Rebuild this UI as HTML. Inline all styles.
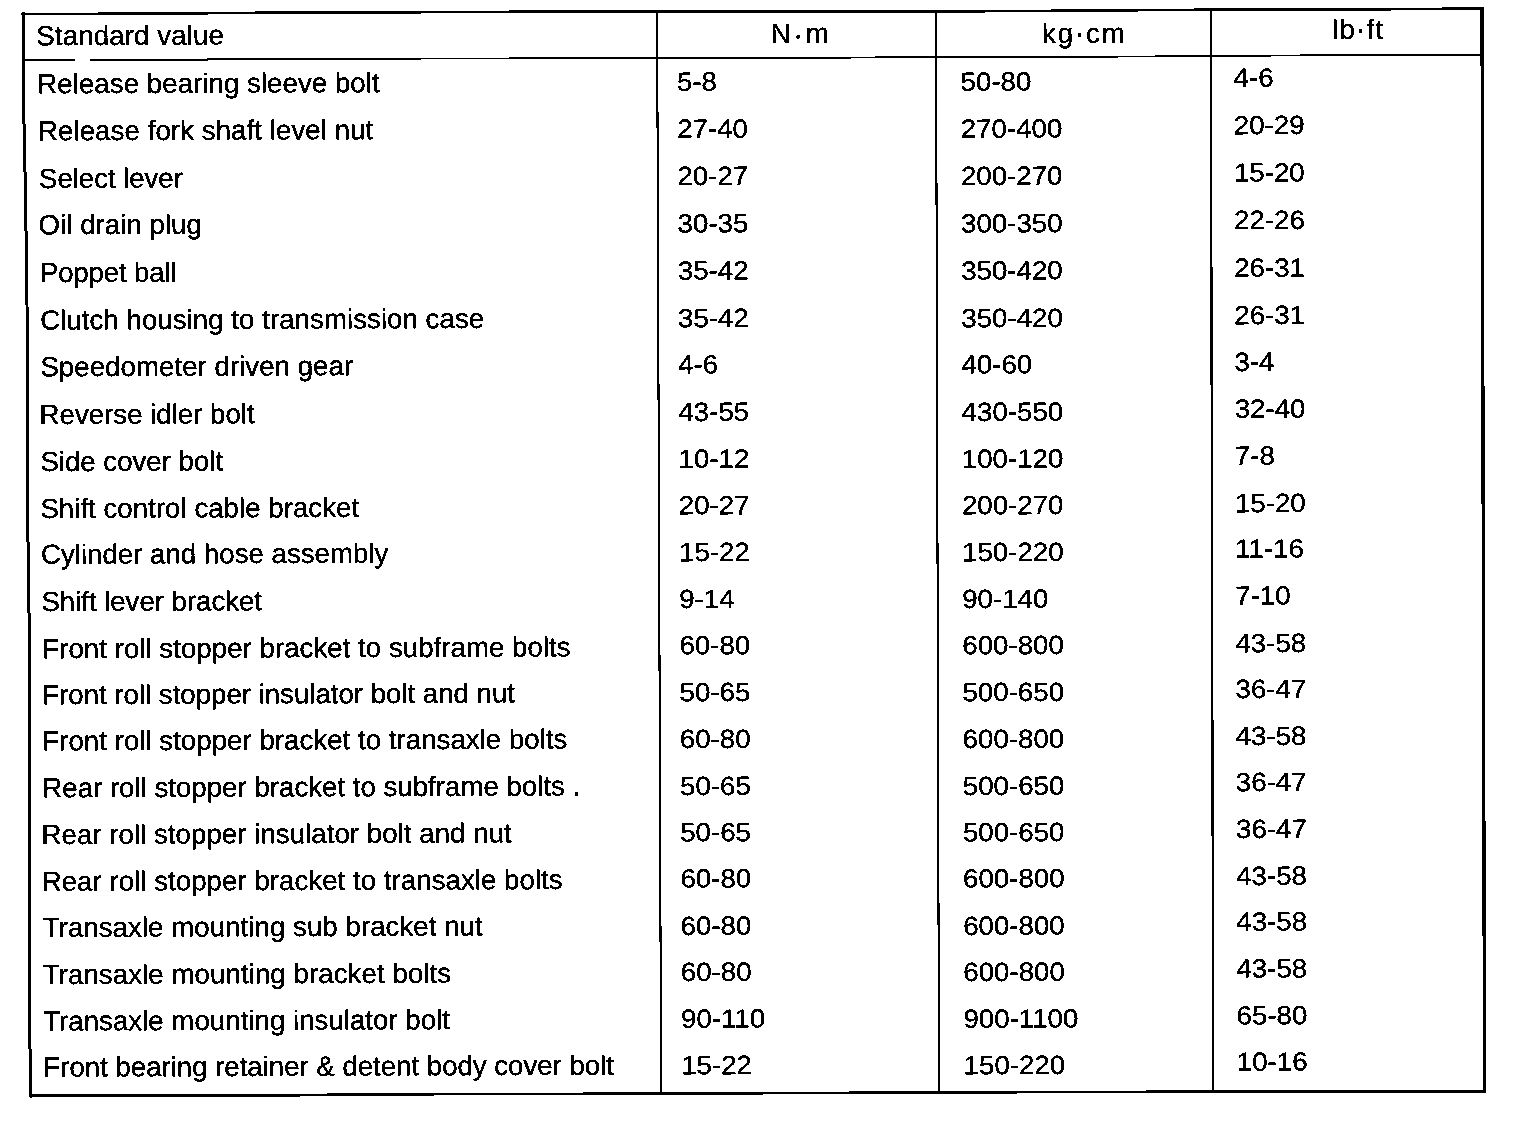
<!DOCTYPE html>
<html><head><meta charset="utf-8"><title>Torque specifications</title>
<style>
html,body{margin:0;padding:0;background:#fff;}
body{width:1536px;height:1124px;overflow:hidden;}
svg{display:block;}
text{font-family:"Liberation Sans",Arial,Helvetica,sans-serif;font-size:27.7px;fill:#000;stroke:#000;stroke-width:0.35px;}
</style></head><body>
<svg width="1536" height="1124" viewBox="0 0 1536 1124">
<defs><filter id="bin" x="0" y="0" width="1536" height="1124" filterUnits="userSpaceOnUse"><feComponentTransfer><feFuncA type="discrete" tableValues="0 1"/></feComponentTransfer></filter></defs>
<rect width="1536" height="1124" fill="#fff"/>
<g filter="url(#bin)">
<polyline points="21.5,14 60,14 330,12.4 670,11.5 950,11.5 1230,9.5 1360,9.4 1483.5,8.5" fill="none" stroke="#000" stroke-width="2.7"/>
<polyline points="23,60.3 75.5,60.2" fill="none" stroke="#000" stroke-width="1.4"/>
<polyline points="90,60.1 110,60.0 330,58.9 670,57.9 800,57.9 950,57 1080,56.9 1230,55.8 1360,55 1482,55" fill="none" stroke="#000" stroke-width="1.8"/>
<polyline points="29,1095.7 300,1095.3 355,1094.4 660,1093.5 939,1092.5 1213,1091.5 1486,1091.4" fill="none" stroke="#000" stroke-width="2.6"/>
<polyline points="23.5,12.5 23.5,100 25.6,200 27.0,305 27.4,500 29.4,640 29.4,1000 30.6,1097.5" fill="none" stroke="#000" stroke-width="3"/>
<polyline points="1482,7.5 1484.5,1092.5" fill="none" stroke="#000" stroke-width="3.2"/>
<polyline points="657.1,11 661.1,1094" fill="none" stroke="#000" stroke-width="2"/>
<polyline points="936,11 939,1093" fill="none" stroke="#000" stroke-width="2.0"/>
<polyline points="1210.8,9 1213.2,1092" fill="none" stroke="#000" stroke-width="2.2"/>
<text x="37.33" y="93.30" transform="rotate(-0.2 37.33 93.30)" textLength="342.36" lengthAdjust="spacing">Release bearing sleeve bolt</text>
<text x="37.98" y="140.30" transform="rotate(-0.2 37.98 140.30)" textLength="335.33" lengthAdjust="spacing">Release fork shaft level nut</text>
<text x="39.02" y="187.90" transform="rotate(-0.2 39.02 187.90)" textLength="143.88" lengthAdjust="spacing">Select lever</text>
<text x="38.62" y="234.20" transform="rotate(-0.2 38.62 234.20)" textLength="163.29" lengthAdjust="spacing">Oil drain plug</text>
<text x="39.93" y="282.10" transform="rotate(-0.2 39.93 282.10)" textLength="136.53" lengthAdjust="spacing">Poppet ball</text>
<text x="40.16" y="329.50" transform="rotate(-0.2 40.16 329.50)" textLength="444.03" lengthAdjust="spacing">Clutch housing to transmission case</text>
<text x="40.41" y="376.30" transform="rotate(-0.2 40.41 376.30)" textLength="312.77" lengthAdjust="spacing">Speedometer driven gear</text>
<text x="39.58" y="424.00" transform="rotate(-0.2 39.58 424.00)" textLength="215.11" lengthAdjust="spacing">Reverse idler bolt</text>
<text x="40.41" y="471.10" transform="rotate(-0.2 40.41 471.10)" textLength="182.71" lengthAdjust="spacing">Side cover bolt</text>
<text x="40.41" y="518.00" transform="rotate(-0.2 40.41 518.00)" textLength="318.73" lengthAdjust="spacing">Shift control cable bracket</text>
<text x="41.02" y="563.80" transform="rotate(-0.2 41.02 563.80)" textLength="347.32" lengthAdjust="spacing">Cylinder and hose assembly</text>
<text x="41.41" y="611.10" transform="rotate(-0.2 41.41 611.10)" textLength="220.67" lengthAdjust="spacing">Shift lever bracket</text>
<text x="42.28" y="658.20" transform="rotate(-0.2 42.28 658.20)" textLength="528.39" lengthAdjust="spacing">Front roll stopper bracket to subframe bolts</text>
<text x="42.28" y="704.20" transform="rotate(-0.2 42.28 704.20)" textLength="472.77" lengthAdjust="spacing">Front roll stopper insulator bolt and nut</text>
<text x="42.28" y="750.30" transform="rotate(-0.2 42.28 750.30)" textLength="525.17" lengthAdjust="spacing">Front roll stopper bracket to transaxle bolts</text>
<text x="42.28" y="797.30" transform="rotate(-0.2 42.28 797.30)" textLength="538.06" lengthAdjust="spacing">Rear roll stopper bracket to subframe bolts .</text>
<text x="41.48" y="844.00" transform="rotate(-0.2 41.48 844.00)" textLength="470.29" lengthAdjust="spacing">Rear roll stopper insulator bolt and nut</text>
<text x="41.68" y="890.80" transform="rotate(-0.2 41.68 890.80)" textLength="520.99" lengthAdjust="spacing">Rear roll stopper bracket to transaxle bolts</text>
<text x="42.75" y="936.95" transform="rotate(-0.2 42.75 936.95)" textLength="440.01" lengthAdjust="spacing">Transaxle mounting sub bracket nut</text>
<text x="42.75" y="984.00" transform="rotate(-0.2 42.75 984.00)" textLength="408.40" lengthAdjust="spacing">Transaxle mounting bracket bolts</text>
<text x="43.15" y="1030.50" transform="rotate(-0.2 43.15 1030.50)" textLength="406.88" lengthAdjust="spacing">Transaxle mounting insulator bolt</text>
<text x="43.38" y="1076.60" transform="rotate(-0.2 43.38 1076.60)" textLength="570.56" lengthAdjust="spacing">Front bearing retainer &amp; detent body cover bolt</text>
<text x="677.00" y="90.70" transform="rotate(-0.2 677.00 90.70) translate(0 4.535) scale(1 0.95)">5-8</text>
<text x="960.60" y="90.70" transform="rotate(-0.2 960.60 90.70) translate(0 4.535) scale(1 0.95)">50-80</text>
<text x="1233.60" y="86.80" transform="rotate(-0.2 1233.60 86.80) translate(0 4.340) scale(1 0.95)">4-6</text>
<text x="677.20" y="137.84" transform="rotate(-0.2 677.20 137.84) translate(0 6.892) scale(1 0.95)">27-40</text>
<text x="960.74" y="137.84" transform="rotate(-0.2 960.74 137.84) translate(0 6.892) scale(1 0.95)">270-400</text>
<text x="1233.75" y="134.24" transform="rotate(-0.2 1233.75 134.24) translate(0 6.712) scale(1 0.95)">20-29</text>
<text x="677.40" y="185.08" transform="rotate(-0.2 677.40 185.08) translate(0 9.254) scale(1 0.95)">20-27</text>
<text x="960.89" y="185.08" transform="rotate(-0.2 960.89 185.08) translate(0 9.254) scale(1 0.95)">200-270</text>
<text x="1233.90" y="181.68" transform="rotate(-0.2 1233.90 181.68) translate(0 9.084) scale(1 0.95)">15-20</text>
<text x="677.60" y="232.51" transform="rotate(-0.2 677.60 232.51) translate(0 11.626) scale(1 0.95)">30-35</text>
<text x="961.03" y="232.51" transform="rotate(-0.2 961.03 232.51) translate(0 11.626) scale(1 0.95)">300-350</text>
<text x="1234.05" y="229.11" transform="rotate(-0.2 1234.05 229.11) translate(0 11.456) scale(1 0.95)">22-26</text>
<text x="677.80" y="279.65" transform="rotate(-0.2 677.80 279.65) translate(0 13.983) scale(1 0.95)">35-42</text>
<text x="961.17" y="279.65" transform="rotate(-0.2 961.17 279.65) translate(0 13.983) scale(1 0.95)">350-420</text>
<text x="1234.20" y="276.85" transform="rotate(-0.2 1234.20 276.85) translate(0 13.843) scale(1 0.95)">26-31</text>
<text x="678.00" y="327.19" transform="rotate(-0.2 678.00 327.19) translate(0 16.360) scale(1 0.95)">35-42</text>
<text x="961.32" y="327.19" transform="rotate(-0.2 961.32 327.19) translate(0 16.360) scale(1 0.95)">350-420</text>
<text x="1234.35" y="324.19" transform="rotate(-0.2 1234.35 324.19) translate(0 16.210) scale(1 0.95)">26-31</text>
<text x="678.20" y="373.53" transform="rotate(-0.2 678.20 373.53) translate(0 18.676) scale(1 0.95)">4-6</text>
<text x="961.46" y="373.53" transform="rotate(-0.2 961.46 373.53) translate(0 18.676) scale(1 0.95)">40-60</text>
<text x="1234.50" y="370.93" transform="rotate(-0.2 1234.50 370.93) translate(0 18.546) scale(1 0.95)">3-4</text>
<text x="678.40" y="420.97" transform="rotate(-0.2 678.40 420.97) translate(0 21.048) scale(1 0.95)">43-55</text>
<text x="961.60" y="420.97" transform="rotate(-0.2 961.60 420.97) translate(0 21.048) scale(1 0.95)">430-550</text>
<text x="1234.65" y="417.87" transform="rotate(-0.2 1234.65 417.87) translate(0 20.893) scale(1 0.95)">32-40</text>
<text x="678.60" y="467.90" transform="rotate(-0.2 678.60 467.90) translate(0 23.395) scale(1 0.95)">10-12</text>
<text x="961.74" y="467.90" transform="rotate(-0.2 961.74 467.90) translate(0 23.395) scale(1 0.95)">100-120</text>
<text x="1234.80" y="464.80" transform="rotate(-0.2 1234.80 464.80) translate(0 23.240) scale(1 0.95)">7-8</text>
<text x="678.80" y="514.34" transform="rotate(-0.2 678.80 514.34) translate(0 25.717) scale(1 0.95)">20-27</text>
<text x="961.89" y="514.34" transform="rotate(-0.2 961.89 514.34) translate(0 25.717) scale(1 0.95)">200-270</text>
<text x="1234.95" y="512.24" transform="rotate(-0.2 1234.95 512.24) translate(0 25.612) scale(1 0.95)">15-20</text>
<text x="679.00" y="561.18" transform="rotate(-0.2 679.00 561.18) translate(0 28.059) scale(1 0.95)">15-22</text>
<text x="962.03" y="561.18" transform="rotate(-0.2 962.03 561.18) translate(0 28.059) scale(1 0.95)">150-220</text>
<text x="1235.10" y="557.78" transform="rotate(-0.2 1235.10 557.78) translate(0 27.889) scale(1 0.95)">11-16</text>
<text x="679.20" y="608.12" transform="rotate(-0.2 679.20 608.12) translate(0 30.406) scale(1 0.95)">9-14</text>
<text x="962.17" y="608.12" transform="rotate(-0.2 962.17 608.12) translate(0 30.406) scale(1 0.95)">90-140</text>
<text x="1235.25" y="604.72" transform="rotate(-0.2 1235.25 604.72) translate(0 30.236) scale(1 0.95)">7-10</text>
<text x="679.40" y="654.36" transform="rotate(-0.2 679.40 654.36) translate(0 32.718) scale(1 0.95)">60-80</text>
<text x="962.32" y="654.36" transform="rotate(-0.2 962.32 654.36) translate(0 32.718) scale(1 0.95)">600-800</text>
<text x="1235.40" y="652.26" transform="rotate(-0.2 1235.40 652.26) translate(0 32.613) scale(1 0.95)">43-58</text>
<text x="679.60" y="701.20" transform="rotate(-0.2 679.60 701.20) translate(0 35.060) scale(1 0.95)">50-65</text>
<text x="962.46" y="701.20" transform="rotate(-0.2 962.46 701.20) translate(0 35.060) scale(1 0.95)">500-650</text>
<text x="1235.55" y="698.10" transform="rotate(-0.2 1235.55 698.10) translate(0 34.905) scale(1 0.95)">36-47</text>
<text x="679.80" y="748.13" transform="rotate(-0.2 679.80 748.13) translate(0 37.407) scale(1 0.95)">60-80</text>
<text x="962.60" y="748.13" transform="rotate(-0.2 962.60 748.13) translate(0 37.407) scale(1 0.95)">600-800</text>
<text x="1235.70" y="745.03" transform="rotate(-0.2 1235.70 745.03) translate(0 37.252) scale(1 0.95)">43-58</text>
<text x="680.00" y="795.07" transform="rotate(-0.2 680.00 795.07) translate(0 39.754) scale(1 0.95)">50-65</text>
<text x="962.75" y="795.07" transform="rotate(-0.2 962.75 795.07) translate(0 39.754) scale(1 0.95)">500-650</text>
<text x="1235.85" y="791.17" transform="rotate(-0.2 1235.85 791.17) translate(0 39.559) scale(1 0.95)">36-47</text>
<text x="680.20" y="841.41" transform="rotate(-0.2 680.20 841.41) translate(0 42.070) scale(1 0.95)">50-65</text>
<text x="962.89" y="841.41" transform="rotate(-0.2 962.89 841.41) translate(0 42.070) scale(1 0.95)">500-650</text>
<text x="1236.00" y="838.01" transform="rotate(-0.2 1236.00 838.01) translate(0 41.900) scale(1 0.95)">36-47</text>
<text x="680.40" y="887.55" transform="rotate(-0.2 680.40 887.55) translate(0 44.377) scale(1 0.95)">60-80</text>
<text x="963.03" y="887.55" transform="rotate(-0.2 963.03 887.55) translate(0 44.377) scale(1 0.95)">600-800</text>
<text x="1236.15" y="884.95" transform="rotate(-0.2 1236.15 884.95) translate(0 44.247) scale(1 0.95)">43-58</text>
<text x="680.60" y="934.89" transform="rotate(-0.2 680.60 934.89) translate(0 46.744) scale(1 0.95)">60-80</text>
<text x="963.17" y="934.89" transform="rotate(-0.2 963.17 934.89) translate(0 46.744) scale(1 0.95)">600-800</text>
<text x="1236.30" y="930.69" transform="rotate(-0.2 1236.30 930.69) translate(0 46.534) scale(1 0.95)">43-58</text>
<text x="680.80" y="981.02" transform="rotate(-0.2 680.80 981.02) translate(0 49.051) scale(1 0.95)">60-80</text>
<text x="963.32" y="981.02" transform="rotate(-0.2 963.32 981.02) translate(0 49.051) scale(1 0.95)">600-800</text>
<text x="1236.45" y="977.62" transform="rotate(-0.2 1236.45 977.62) translate(0 48.881) scale(1 0.95)">43-58</text>
<text x="681.00" y="1027.86" transform="rotate(-0.2 681.00 1027.86) translate(0 51.393) scale(1 0.95)">90-110</text>
<text x="963.46" y="1027.86" transform="rotate(-0.2 963.46 1027.86) translate(0 51.393) scale(1 0.95)">900-1100</text>
<text x="1236.60" y="1024.51" transform="rotate(-0.2 1236.60 1024.51) translate(0 51.226) scale(1 0.95)">65-80</text>
<text x="681.20" y="1074.30" transform="rotate(-0.2 681.20 1074.30) translate(0 53.715) scale(1 0.95)">15-22</text>
<text x="963.60" y="1074.30" transform="rotate(-0.2 963.60 1074.30) translate(0 53.715) scale(1 0.95)">150-220</text>
<text x="1236.75" y="1070.80" transform="rotate(-0.2 1236.75 1070.80) translate(0 53.540) scale(1 0.95)">10-16</text>
<text x="36.32" y="45.20" transform="rotate(-0.2 36.32 45.20)" textLength="187.57" lengthAdjust="spacing">Standard value</text>
<text x="770.68" y="42.90" transform="rotate(-0.2 770.68 42.90)" textLength="58.08" lengthAdjust="spacing">N <tspan dy="1.5">·</tspan><tspan dy="-1.5"> m</tspan></text>
<text x="1042.06" y="42.90" transform="rotate(-0.2 1042.06 42.90)" textLength="82.66" lengthAdjust="spacing">kg·cm</text>
<text x="1332.06" y="38.90" transform="rotate(-0.2 1332.06 38.90)" textLength="51.13" lengthAdjust="spacing">lb·ft</text>
</g>
</svg>
</body></html>
